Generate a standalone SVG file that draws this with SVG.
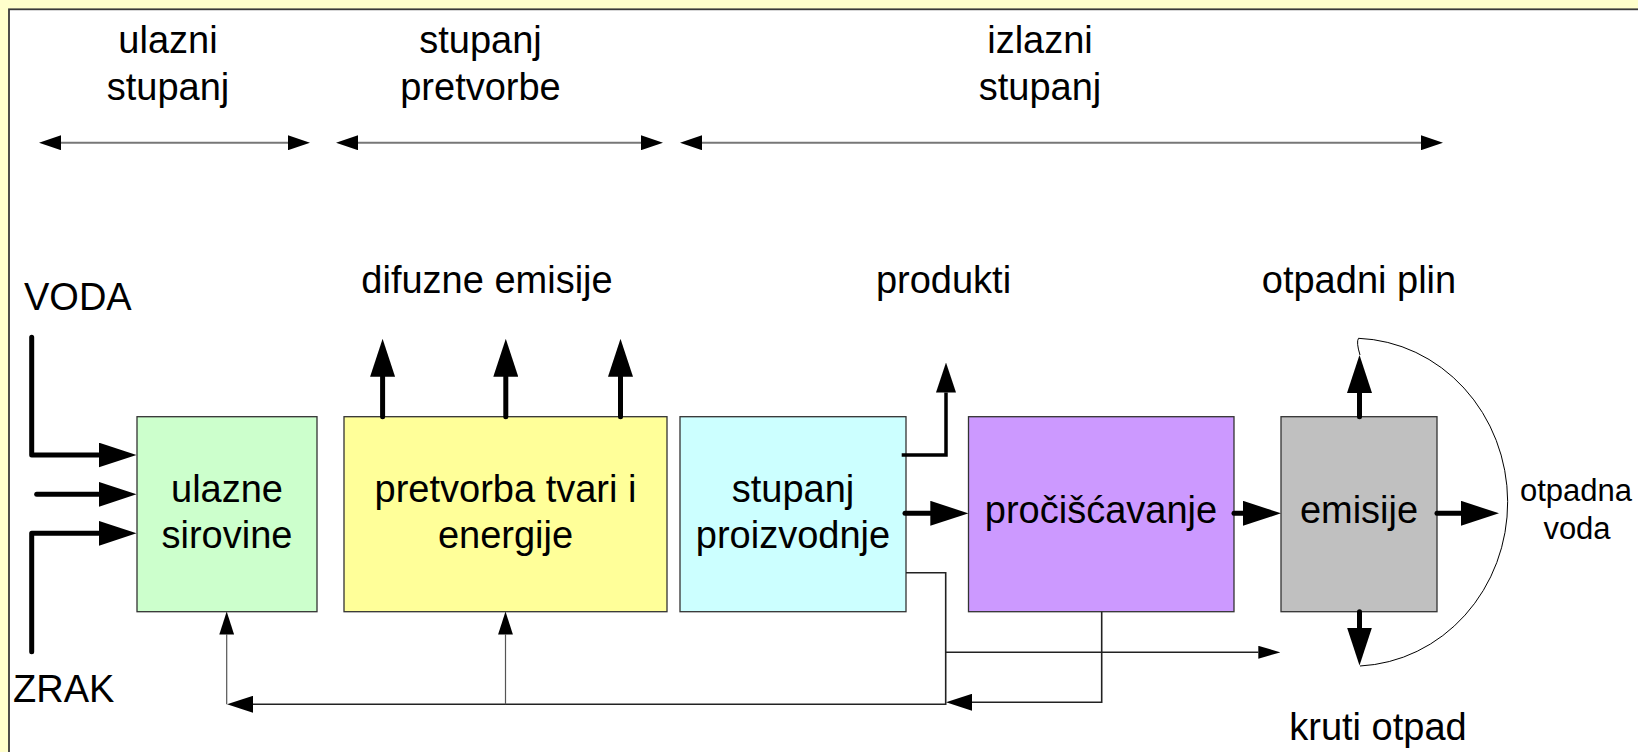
<svg xmlns="http://www.w3.org/2000/svg" width="1638" height="752" viewBox="0 0 1638 752">
<style>
text{font-family:"Liberation Sans",Arial,sans-serif;fill:#000;}
.t{font-size:38px;text-anchor:middle;}
.l{font-size:38px;}
.s{font-size:31px;text-anchor:middle;}
.box{stroke:#333;stroke-width:1.3;}
.thick{fill:none;stroke:#000;stroke-width:5;stroke-linecap:round;stroke-linejoin:round;}
.mid{fill:none;stroke:#000;stroke-width:3.5;stroke-linecap:butt;stroke-linejoin:miter;}
.thin{fill:none;stroke:#222;stroke-width:1.6;}
.thin2{fill:none;stroke:#555;stroke-width:1.2;}
.span{fill:none;stroke:#777;stroke-width:2;}
.arc{fill:none;stroke:#000;stroke-width:1;}
</style>
<defs>
<marker id="mBig" markerUnits="userSpaceOnUse" markerWidth="38" markerHeight="25" refX="0" refY="12.5" orient="auto"><path d="M0,0 L38,12.5 L0,25 Z" fill="#000"/></marker>
<marker id="mProd" markerUnits="userSpaceOnUse" markerWidth="30" markerHeight="20" refX="0" refY="10" orient="auto"><path d="M0,0 L30,10 L0,20 Z" fill="#000"/></marker>
<marker id="mFb" markerUnits="userSpaceOnUse" markerWidth="26" markerHeight="17" refX="0" refY="8.5" orient="auto"><path d="M0,0 L26,8.5 L0,17 Z" fill="#000"/></marker>
<marker id="mFbv" markerUnits="userSpaceOnUse" markerWidth="23" markerHeight="15" refX="0" refY="7.4" orient="auto"><path d="M0,0 L23,7.4 L0,14.8 Z" fill="#000"/></marker>
<marker id="mSmall" markerUnits="userSpaceOnUse" markerWidth="22" markerHeight="13" refX="0" refY="6.5" orient="auto"><path d="M0,0 L22,6.5 L0,13 Z" fill="#000"/></marker>
<marker id="mTop" markerUnits="userSpaceOnUse" markerWidth="22" markerHeight="15" refX="0" refY="7.5" orient="auto-start-reverse"><path d="M0,0 L22,7.5 L0,15 Z" fill="#000"/></marker>
</defs>
<rect x="0" y="0" width="1638" height="752" fill="#ffffcc"/>
<rect x="9" y="9.3" width="1640" height="760" fill="#fff" stroke="#3a3a3a" stroke-width="1.8"/>

<g id="stage-labels">
<text class="t" x="168" y="53.3">ulazni</text>
<text class="t" x="168" y="100">stupanj</text>
<text class="t" x="480.5" y="53.3">stupanj</text>
<text class="t" x="480.5" y="100">pretvorbe</text>
<text class="t" x="1040" y="53.3">izlazni</text>
<text class="t" x="1040" y="100">stupanj</text>
</g>

<g id="labels">
<text class="l" x="24" y="310">VODA</text>
<text class="l" x="13" y="701.7">ZRAK</text>
<text class="t" x="487" y="293.3">difuzne emisije</text>
<text class="t" x="943.5" y="293.3">produkti</text>
<text class="t" x="1359" y="293.3">otpadni plin</text>
<text class="t" x="1378" y="740">kruti otpad</text>
<text class="s" x="1576" y="501">otpadna</text>
<text class="s" x="1577" y="539">voda</text>
</g>

<g id="node-ulazne-sirovine">
<rect class="box" x="137" y="416.7" width="180" height="195" fill="#ccffcc"/>
<text class="t" x="227" y="502">ulazne</text>
<text class="t" x="227" y="548">sirovine</text>
</g>
<g id="node-pretvorba">
<rect class="box" x="344" y="416.7" width="323" height="195" fill="#ffff99"/>
<text class="t" x="505.5" y="502">pretvorba tvari i</text>
<text class="t" x="505.5" y="548">energije</text>
</g>
<g id="node-proizvodnja">
<rect class="box" x="680" y="416.7" width="226" height="195" fill="#ccffff"/>
<text class="t" x="793" y="502">stupanj</text>
<text class="t" x="793" y="548">proizvodnje</text>
</g>
<g id="node-prociscavanje">
<rect class="box" x="968.5" y="416.7" width="265.5" height="195" fill="#cc99ff"/>
<text class="t" x="1101" y="523.3">pročišćavanje</text>
</g>
<g id="node-emisije">
<rect class="box" x="1281" y="416.7" width="156" height="195" fill="#c0c0c0"/>
<text class="t" x="1359" y="523.3">emisije</text>
</g>

<g id="connectors">
<line class="span" x1="61" y1="142.7" x2="288" y2="142.7" marker-start="url(#mTop)" marker-end="url(#mTop)"/>
<line class="span" x1="358" y1="142.7" x2="641" y2="142.7" marker-start="url(#mTop)" marker-end="url(#mTop)"/>
<line class="span" x1="702" y1="142.7" x2="1421" y2="142.7" marker-start="url(#mTop)" marker-end="url(#mTop)"/>

<path class="thick" d="M31.7,337.3 V455 H98.5" marker-end="url(#mBig)"/>
<path class="thick" d="M36.7,494.3 H98.5" marker-end="url(#mBig)"/>
<path class="thick" d="M31.7,651.7 V533.3 H98.5" marker-end="url(#mBig)"/>

<path class="thick" d="M382.6,416.7 V376.8" marker-end="url(#mBig)"/>
<path class="thick" d="M505.8,416.7 V376.8" marker-end="url(#mBig)"/>
<path class="thick" d="M620.5,416.7 V376.8" marker-end="url(#mBig)"/>

<path class="mid" d="M901.7,455 H946 V392.5" marker-end="url(#mProd)"/>

<path class="thick" d="M905,513.3 H930.3" marker-end="url(#mBig)"/>
<path class="thick" d="M1234,513.3 H1243" marker-end="url(#mBig)"/>
<path class="thick" d="M1437,513.3 H1461" marker-end="url(#mBig)"/>
<path class="thick" d="M1359.5,416.7 V393" marker-end="url(#mBig)"/>
<path class="thick" d="M1359.5,611.7 V627.5" marker-end="url(#mBig)"/>

<path class="arc" d="M1360,355 Q1356,342 1358.5,338.3 A155 164 0 0 1 1360,666"/>

<path class="thin" d="M906,572.7 H945.7 V704.3 H253" marker-end="url(#mFb)"/>
<path class="thin" d="M945.7,652.3 H1258.3" marker-end="url(#mSmall)"/>
<path class="thin" d="M1101.7,611.7 V702.3 H972" marker-end="url(#mFb)"/>
<path class="thin2" d="M226.7,704.3 V634.5" marker-end="url(#mFbv)"/>
<path class="thin2" d="M505.5,704.3 V634.5" marker-end="url(#mFbv)"/>
</g>
</svg>
